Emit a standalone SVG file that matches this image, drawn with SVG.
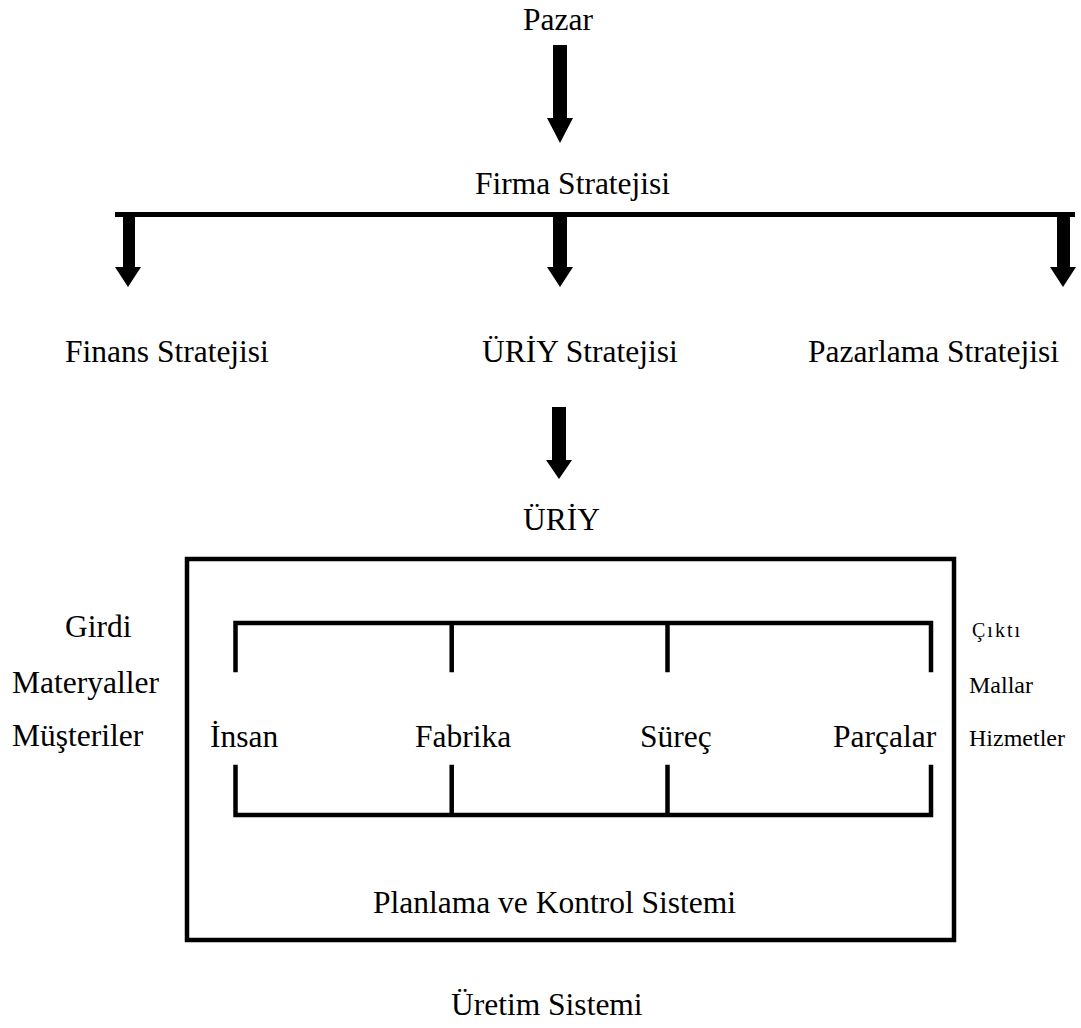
<svg xmlns="http://www.w3.org/2000/svg" width="1081" height="1028" viewBox="0 0 1081 1028">
  <style>
    .t { font-family: "Liberation Serif", "Times New Roman", serif; font-size: 31.5px; fill: #000; }
    .s { font-family: "Liberation Serif", "Times New Roman", serif; font-size: 24px; fill: #000; }
    .xs { font-family: "Liberation Serif", "Times New Roman", serif; font-size: 20px; fill: #000; }
    .ln { fill: none; stroke: #000; stroke-width: 4.5; stroke-linecap: square; stroke-linejoin: miter; }
    .arw { fill: #000; stroke: none; }
  </style>
  <rect width="1081" height="1028" fill="#fff"/>

  <!-- connectors: block arrows and branch bar -->
  <g id="connectors">
    <polygon class="arw" points="553,45 567,45 567,118 573,118 560,143 547,118 553,118"/>
    <rect class="arw" x="115" y="212" width="960" height="5"/>
    <polygon class="arw" points="123,217 135,217 135,267 141,267 128,287 115,267 123,267"/>
    <polygon class="arw" points="553,217 567,217 567,267 573,267 560,287 547,267 553,267"/>
    <polygon class="arw" points="1057,217 1070,217 1070,267 1076,267 1063,287 1050,267 1057,267"/>
    <polygon class="arw" points="552,407 566,407 566,460 572,460 559,479 546,460 552,460"/>
  </g>

  <g id="pazar"><text class="t" x="523" y="30">Pazar</text></g>
  <g id="firma-stratejisi"><text class="t" x="475" y="194">Firma Stratejisi</text></g>
  <g id="finans-stratejisi"><text class="t" x="65" y="362">Finans Stratejisi</text></g>
  <g id="uriy-stratejisi"><text class="t" x="482" y="362">ÜRİY Stratejisi</text></g>
  <g id="pazarlama-stratejisi"><text class="t" x="808" y="362">Pazarlama Stratejisi</text></g>
  <g id="uriy"><text class="t" x="523" y="530">ÜRİY</text></g>

  <!-- production system box -->
  <g id="uretim-sistemi">
    <rect class="ln" x="187" y="559" width="767" height="381"/>
    <path class="ln" d="M235.5,670 V623 H931 V670 M451.7,623 V670 M667.5,623 V670"/>
    <path class="ln" d="M235.5,767 V815 H931 V767 M451.7,767 V815 M667.5,767 V815"/>
    <text class="t" x="210" y="747">İnsan</text>
    <text class="t" x="415" y="747">Fabrika</text>
    <text class="t" x="640" y="747">Süreç</text>
    <text class="t" x="833" y="747">Parçalar</text>
    <text class="t" x="373" y="913">Planlama ve Kontrol Sistemi</text>
  </g>

  <g id="girdi">
    <text class="t" x="65" y="637">Girdi</text>
    <text class="t" x="12" y="693">Materyaller</text>
    <text class="t" x="12" y="746">Müşteriler</text>
  </g>

  <g id="cikti">
    <text class="xs" x="972" y="637" textLength="48">Çıktı</text>
    <text class="s" x="969" y="693">Mallar</text>
    <text class="s" x="969" y="746">Hizmetler</text>
  </g>

  <g id="uretim-label"><text class="t" x="451" y="1015">Üretim Sistemi</text></g>
</svg>
